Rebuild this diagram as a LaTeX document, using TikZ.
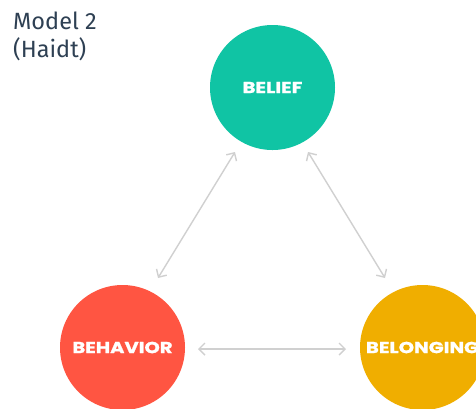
\documentclass[tikz,border=0pt]{standalone}
\usepackage{fontspec}
\setmainfont{Fira Sans}
\newfontfamily\labelfont{Poppins}[UprightFont=* Bold, FakeStretch=1.22, FakeBold=1.2]
\usetikzlibrary{arrows.meta}
\definecolor{beliefc}{HTML}{10C4A4}
\definecolor{behaviorc}{HTML}{FF5542}
\definecolor{belongc}{HTML}{F0AE00}
\definecolor{linkc}{HTML}{D0D0D0}
\definecolor{titlec}{HTML}{2E4053}
\tikzset{
  x=1pt, y=-1pt,
  circ/.style={circle, minimum size=125pt, inner sep=0pt, text=white,
    font=\labelfont\fontsize{16}{18}\selectfont},
  link/.style={draw=linkc, line width=1.4pt,
    {Straight Barb[length=6pt,width=12pt,line width=1.4pt]}-{Straight Barb[length=6pt,width=12pt,line width=1.4pt]}},
  title/.style={anchor=base west, text=titlec, inner sep=0pt,
    font=\fontsize{23.5}{28}\selectfont}
}
\begin{document}
\begin{tikzpicture}
  \useasboundingbox (0,0) rectangle (476,408);
  \clip (0,0) rectangle (476,408);
  \fill[white] (0,0) rectangle (476,408);
  % heading
  \node[title] (t1) at (13,29) {Model 2};
  \node[title] (t2) at (13,57) {(Haidt)};
  % the three circles
  \node[circ, fill=beliefc] (belief) at (272.5,87.5) {BELIEF};
  \node[circ, fill=behaviorc] (behavior) at (122.5,347.5) {BEHAVIOR};
  \node[circ, fill=belongc] (belong) at (422.5,347.5) {BELONGING};
  % two-way links between them
  \coordinate (a1) at (235,152); \coordinate (a2) at (158,278);
  \coordinate (b1) at (308,152); \coordinate (b2) at (385,278);
  \coordinate (c1) at (198,349); \coordinate (c2) at (346,349);
  \draw[link] (a1) -- (a2);
  \draw[link] (b1) -- (b2);
  \draw[link] (c1) -- (c2);
\end{tikzpicture}
\end{document}
